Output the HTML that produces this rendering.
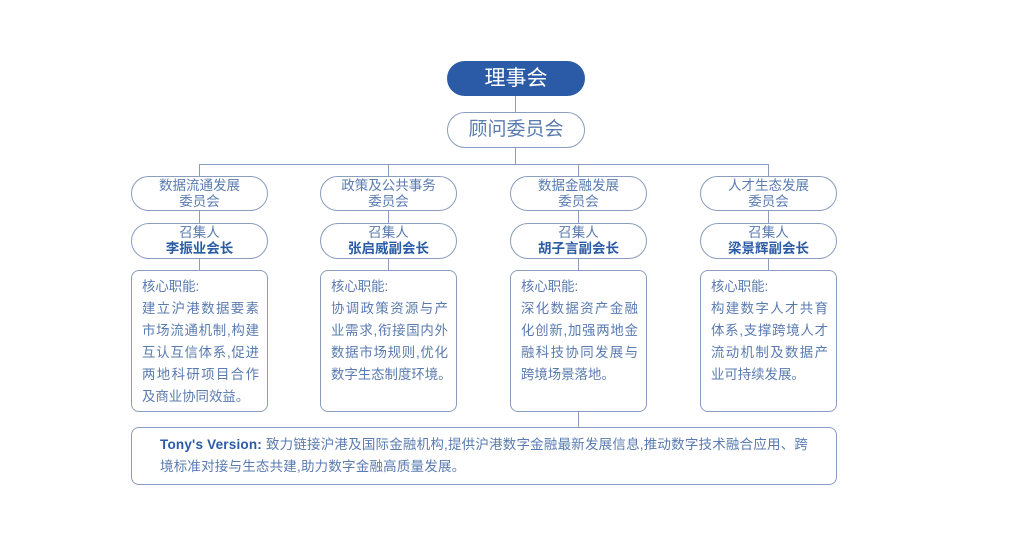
<!DOCTYPE html>
<html><head><meta charset="utf-8"><style>
body{margin:0;width:1024px;height:542px;background:#fff;position:relative;overflow:hidden;font-family:"Liberation Sans","Noto Sans CJK SC",sans-serif;color:#5a7bb0}
.a{position:absolute;box-sizing:border-box}
.pill{border:1.3px solid #8a9dbd;border-radius:18px;background:#fff;text-align:center;font-size:13.5px;line-height:16px;color:#5a7bb0}
.box{border:1.3px solid #8a9dbd;border-radius:8px;background:#fff;font-size:13.4px;line-height:22px;padding:5px 8px 0 10px;color:#5a7bb0}
.box div{white-space:nowrap}
.box div.j{text-align:justify;text-align-last:justify}
.l{position:absolute;background:#8a9dbd}
b{color:#2b5ba6}
</style></head><body>
<div class="a" style="left:447px;top:61px;width:138px;height:35px;border-radius:18px;background:#2b5ba6;color:#fff;font-size:21px;line-height:35px;text-align:center">理事会</div>
<div class="l" style="left:515px;top:96px;width:1.3px;height:16px"></div>
<div class="a pill" style="left:447px;top:112px;width:138px;height:36px;font-size:19px;line-height:34px">顾问委员会</div>
<div class="l" style="left:515px;top:148px;width:1.3px;height:17px"></div>
<div class="l" style="left:199px;top:164px;width:570px;height:1.3px"></div>

<div class="l" style="left:199px;top:164px;width:1.3px;height:106px"></div>
<div class="l" style="left:388px;top:164px;width:1.3px;height:106px"></div>
<div class="l" style="left:578px;top:164px;width:1.3px;height:263px"></div>
<div class="l" style="left:768px;top:164px;width:1.3px;height:106px"></div>

<div class="a pill" style="left:131px;top:176px;width:137px;height:35px;padding-top:1px">数据流通发展<br>委员会</div>
<div class="a pill" style="left:320px;top:176px;width:137px;height:35px;padding-top:1px">政策及公共事务<br>委员会</div>
<div class="a pill" style="left:510px;top:176px;width:137px;height:35px;padding-top:1px">数据金融发展<br>委员会</div>
<div class="a pill" style="left:700px;top:176px;width:137px;height:35px;padding-top:1px">人才生态发展<br>委员会</div>

<div class="a pill" style="left:131px;top:223px;width:137px;height:36px;padding-top:1px">召集人<br><b>李振业会长</b></div>
<div class="a pill" style="left:320px;top:223px;width:137px;height:36px;padding-top:1px">召集人<br><b>张启威副会长</b></div>
<div class="a pill" style="left:510px;top:223px;width:137px;height:36px;padding-top:1px">召集人<br><b>胡子言副会长</b></div>
<div class="a pill" style="left:700px;top:223px;width:137px;height:36px;padding-top:1px">召集人<br><b>梁景辉副会长</b></div>

<div class="a box" style="left:131px;top:270px;width:137px;height:142px"><div>核心职能:</div><div class="j">建立沪港数据要素</div><div class="j">市场流通机制,构建</div><div class="j">互认互信体系,促进</div><div class="j">两地科研项目合作</div><div>及商业协同效益。</div></div>
<div class="a box" style="left:320px;top:270px;width:137px;height:142px"><div>核心职能:</div><div class="j">协调政策资源与产</div><div class="j">业需求,衔接国内外</div><div class="j">数据市场规则,优化</div><div>数字生态制度环境。</div></div>
<div class="a box" style="left:510px;top:270px;width:137px;height:142px"><div>核心职能:</div><div class="j">深化数据资产金融</div><div class="j">化创新,加强两地金</div><div class="j">融科技协同发展与</div><div>跨境场景落地。</div></div>
<div class="a box" style="left:700px;top:270px;width:137px;height:142px"><div>核心职能:</div><div class="j">构建数字人才共育</div><div class="j">体系,支撑跨境人才</div><div class="j">流动机制及数据产</div><div>业可持续发展。</div></div>

<div class="a box" style="left:131px;top:427px;width:706px;height:58px;padding:6px 10px 0 28px;font-size:13.5px;line-height:22px;letter-spacing:0.2px"><div style="white-space:nowrap"><b>Tony's Version:</b> 致力链接沪港及国际金融机构,提供沪港数字金融最新发展信息,推动数字技术融合应用、跨</div><div>境标准对接与生态共建,助力数字金融高质量发展。</div></div>
</body></html>
